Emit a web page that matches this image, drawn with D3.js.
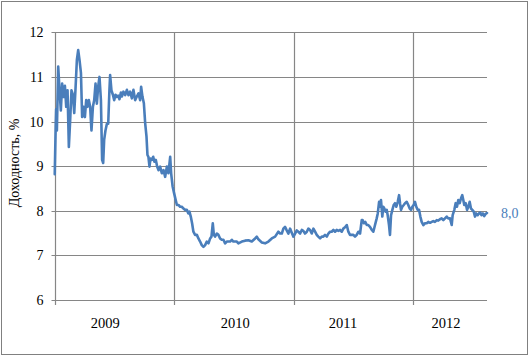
<!DOCTYPE html>
<html>
<head>
<meta charset="utf-8">
<script src="https://cdn.jsdelivr.net/npm/d3@7"></script>
<style>
  html, body { margin: 0; padding: 0; background: #fff; }
  svg { display: block; }
  svg text { font-family: "Liberation Serif", "Times New Roman", serif !important; }
</style>
</head>
<body>
<script>
// ---- data (decimal year, yield %) ----
const dates = [
  2009.002, 2009.010, 2009.014, 2009.020, 2009.031, 2009.042, 2009.053, 2009.064, 2009.075, 2009.087,
  2009.098, 2009.109, 2009.120, 2009.131, 2009.142, 2009.154, 2009.165, 2009.175, 2009.187, 2009.198,
  2009.209, 2009.221, 2009.231, 2009.242, 2009.254, 2009.265, 2009.276, 2009.287, 2009.298, 2009.309,
  2009.321, 2009.332, 2009.343, 2009.354, 2009.365, 2009.376, 2009.388, 2009.398, 2009.407, 2009.415,
  2009.426, 2009.438, 2009.449, 2009.459, 2009.465, 2009.476, 2009.488, 2009.499, 2009.510, 2009.521,
  2009.532, 2009.543, 2009.555, 2009.563, 2009.576, 2009.591, 2009.605, 2009.618, 2009.632, 2009.647,
  2009.660, 2009.674, 2009.688, 2009.702, 2009.716, 2009.724, 2009.735, 2009.747, 2009.758, 2009.769,
  2009.777, 2009.785, 2009.794, 2009.802, 2009.814, 2009.825, 2009.835, 2009.847, 2009.858, 2009.869,
  2009.883, 2009.897, 2009.911, 2009.925, 2009.939, 2009.952, 2009.967, 2009.975, 2009.987, 2010.000,
  2010.013, 2010.023, 2010.036, 2010.050, 2010.064, 2010.078, 2010.092, 2010.106, 2010.119, 2010.128,
  2010.139, 2010.150, 2010.161, 2010.175, 2010.190, 2010.203, 2010.217, 2010.231, 2010.245, 2010.259,
  2010.273, 2010.287, 2010.301, 2010.312, 2010.323, 2010.332, 2010.342, 2010.357, 2010.370, 2010.384,
  2010.398, 2010.412, 2010.426, 2010.440, 2010.454, 2010.468, 2010.482, 2010.495, 2010.510, 2010.524,
  2010.537, 2010.566, 2010.593, 2010.621, 2010.649, 2010.677, 2010.691, 2010.704, 2010.733, 2010.760,
  2010.788, 2010.816, 2010.844, 2010.871, 2010.886, 2010.900, 2010.913, 2010.927, 2010.941, 2010.955,
  2010.969, 2010.983, 2010.997, 2011.011, 2011.025, 2011.038, 2011.053, 2011.067, 2011.080, 2011.094,
  2011.109, 2011.122, 2011.136, 2011.150, 2011.164, 2011.178, 2011.192, 2011.205, 2011.220, 2011.234,
  2011.247, 2011.261, 2011.276, 2011.289, 2011.303, 2011.317, 2011.331, 2011.345, 2011.359, 2011.373,
  2011.387, 2011.401, 2011.414, 2011.428, 2011.443, 2011.456, 2011.470, 2011.484, 2011.498, 2011.512,
  2011.526, 2011.540, 2011.554, 2011.568, 2011.576, 2011.587, 2011.598, 2011.610, 2011.623, 2011.637,
  2011.652, 2011.665, 2011.679, 2011.693, 2011.702, 2011.713, 2011.721, 2011.729, 2011.740, 2011.748,
  2011.757, 2011.768, 2011.777, 2011.785, 2011.796, 2011.804, 2011.813, 2011.824, 2011.835, 2011.846,
  2011.857, 2011.869, 2011.880, 2011.888, 2011.896, 2011.907, 2011.919, 2011.930, 2011.944, 2011.957,
  2011.969, 2011.980, 2011.991, 2012.002, 2012.013, 2012.024, 2012.036, 2012.047, 2012.058, 2012.069,
  2012.083, 2012.097, 2012.111, 2012.124, 2012.139, 2012.153, 2012.166, 2012.180, 2012.195, 2012.208,
  2012.222, 2012.236, 2012.250, 2012.264, 2012.278, 2012.291, 2012.306, 2012.320, 2012.328, 2012.342,
  2012.353, 2012.364, 2012.375, 2012.387, 2012.398, 2012.408, 2012.417, 2012.425, 2012.437, 2012.448,
  2012.459, 2012.470, 2012.481, 2012.492, 2012.504, 2012.515, 2012.525, 2012.537, 2012.548, 2012.559,
  2012.569, 2012.581, 2012.592, 2012.604, 2012.615
];
const yields = [
  8.82, 9.90, 10.28, 9.80, 11.23, 10.70, 10.25, 10.85, 10.55, 10.80,
  10.33, 10.70, 9.43, 10.03, 10.70, 10.60, 10.19, 10.70, 11.38, 11.60,
  11.38, 11.09, 10.10, 10.33, 10.10, 10.48, 10.33, 10.48, 10.33, 9.80,
  10.33, 10.48, 10.85, 10.40, 10.78, 11.00, 10.48, 9.14, 9.07, 9.59,
  9.80, 9.95, 9.95, 10.70, 11.04, 10.70, 10.60, 10.48, 10.60, 10.55,
  10.58, 10.50, 10.65, 10.56, 10.67, 10.59, 10.71, 10.59, 10.67, 10.52,
  10.71, 10.48, 10.56, 10.63, 10.48, 10.78, 10.56, 10.41, 9.96, 9.66,
  9.25, 9.21, 8.99, 9.17, 9.14, 9.21, 9.10, 9.14, 8.99, 8.91,
  8.99, 8.84, 8.91, 8.76, 8.99, 8.84, 9.21, 8.84, 8.55, 8.39,
  8.24, 8.13, 8.13, 8.09, 8.09, 8.05, 8.02, 8.02, 7.94, 7.98,
  7.87, 7.72, 7.53, 7.46, 7.46, 7.38, 7.31, 7.23, 7.19, 7.23,
  7.31, 7.27, 7.38, 7.42, 7.72, 7.46, 7.42, 7.49, 7.46, 7.38,
  7.35, 7.35, 7.27, 7.31, 7.31, 7.31, 7.35, 7.31, 7.31, 7.31,
  7.27, 7.31, 7.33, 7.34, 7.31, 7.38, 7.42, 7.36, 7.29, 7.27,
  7.31, 7.38, 7.42, 7.53, 7.49, 7.49, 7.60, 7.64, 7.56, 7.49,
  7.60, 7.51, 7.42, 7.49, 7.56, 7.53, 7.49, 7.57, 7.55, 7.49,
  7.53, 7.60, 7.57, 7.49, 7.60, 7.53, 7.46, 7.42, 7.38, 7.42,
  7.42, 7.46, 7.42, 7.49, 7.53, 7.53, 7.57, 7.53, 7.57, 7.55,
  7.57, 7.53, 7.60, 7.63, 7.68, 7.53, 7.46, 7.46, 7.46, 7.42,
  7.46, 7.53, 7.49, 7.79, 7.79, 7.72, 7.75, 7.68, 7.68, 7.64,
  7.57, 7.53, 7.68, 7.83, 7.94, 8.20, 8.09, 8.24, 7.87, 8.09,
  8.05, 7.98, 8.02, 7.90, 7.68, 7.46, 7.90, 8.02, 8.13, 8.17,
  8.09, 8.20, 8.35, 8.17, 8.02, 8.09, 8.13, 8.17, 8.20, 8.13,
  8.05, 8.02, 8.09, 8.13, 8.20, 8.09, 8.02, 8.02, 7.87, 7.75,
  7.68, 7.72, 7.72, 7.75, 7.73, 7.75, 7.77, 7.75, 7.79, 7.78,
  7.81, 7.83, 7.79, 7.83, 7.87, 7.83, 7.83, 7.68, 7.90, 8.02,
  8.17, 8.09, 8.24, 8.17, 8.28, 8.35, 8.24, 8.13, 8.17, 8.02,
  8.09, 8.20, 8.05, 8.02, 7.98, 7.87, 7.94, 7.90, 7.94, 7.96,
  7.90, 7.94, 7.88, 7.93, 7.95
];
const yTicks = [6, 7, 8, 9, 10, 11, 12];
const yearBounds = [2009, 2010, 2011, 2012];
const yearLabels = ["2009", "2010", "2011", "2012"];
const yearLabelPos = [2009.424, 2010.510, 2011.412, 2012.272];
const yAxisTitle = "Доходность, %";
const endLabel = "8,0";

(function () {
  // ---- layout ----
  const W = 532, H = 357;
  const mLeft = 54.5, mRight = 487, mTop = 32.3, mBottom = 300;
  const gridColor = "#868686";
  const lineColor = "#4a7ebb";
  const serif = '"Liberation Serif", "Times New Roman", serif';

  const svg = d3.select("body").append("svg").attr("width", W).attr("height", H)
    .attr("font-family", serif);

  // outer frame
  svg.append("rect").attr("x", 1.5).attr("y", 1.5).attr("width", 526).attr("height", 353)
    .attr("fill", "#fff").attr("stroke", "#808080").attr("stroke-width", 1);

  const x = d3.scaleLinear().domain([2009, 2012.615]).range([mLeft, mRight]);
  const y = d3.scaleLinear().domain([6, 12]).range([mBottom, mTop]);
  const crisp = v => Math.round(v) + 0.5;

  // horizontal gridlines + left ticks
  svg.append("g").selectAll("line").data(yTicks).join("line")
    .attr("x1", mLeft - 3).attr("x2", mRight)
    .attr("y1", d => crisp(y(d))).attr("y2", d => crisp(y(d)))
    .attr("stroke", gridColor).attr("stroke-width", 1.2);

  // vertical gridlines (year boundaries) with tick below axis
  svg.append("g").selectAll("line").data(yearBounds).join("line")
    .attr("x1", d => crisp(x(d))).attr("x2", d => crisp(x(d)))
    .attr("y1", mTop).attr("y2", mBottom + 5)
    .attr("stroke", gridColor).attr("stroke-width", 1.2);

  // y axis labels
  const yAxis = d3.axisLeft(y).tickValues(yTicks).tickSize(0).tickPadding(11).tickFormat(d3.format("d"));
  const ga = svg.append("g").attr("transform", `translate(${mLeft},0)`).call(yAxis)
    .attr("font-family", serif).attr("font-size", 14);
  ga.select(".domain").remove();
  ga.selectAll("text").attr("fill", "#000");

  // year labels
  svg.append("g").selectAll("text").data(yearLabels).join("text")
    .attr("x", (d, i) => x(yearLabelPos[i])).attr("y", 328)
    .attr("text-anchor", "middle").attr("font-size", "14.5px").attr("fill", "#000")
    .text(d => d);

  // y axis title
  svg.append("text")
    .attr("transform", "translate(19,163) rotate(-90)")
    .attr("text-anchor", "middle").attr("font-size", "14px").attr("fill", "#000")
    .text(yAxisTitle);

  // series line
  const pts = dates.map((d, i) => [d, yields[i]]);
  const line = d3.line().x(d => x(d[0])).y(d => y(d[1]));
  svg.append("path").datum(pts)
    .attr("d", line).attr("fill", "none")
    .attr("stroke", lineColor).attr("stroke-width", 2.6)
    .attr("stroke-linejoin", "round").attr("stroke-linecap", "round");

  // end label
  const last = pts[pts.length - 1];
  svg.append("text")
    .attr("x", x(last[0]) + 14).attr("y", y(last[1])).attr("dy", "0.35em")
    .attr("font-size", "14px").attr("fill", lineColor)
    .text(endLabel);
})();
</script>
</body>
</html>
